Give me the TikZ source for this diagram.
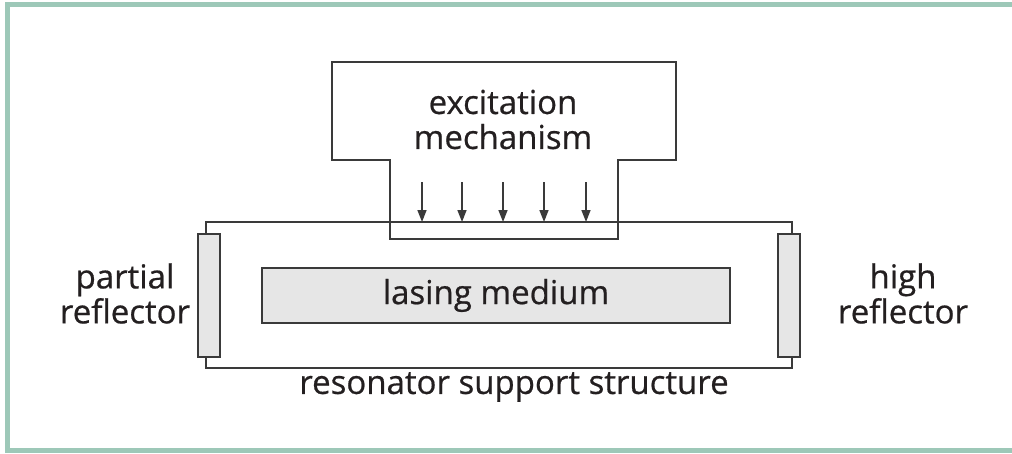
\documentclass[tikz,border=0pt]{standalone}
\usepackage{fontspec}
\setmainfont{Open Sans}
\newfontfamily\lblfont{Open Sans}[FakeBold=0.6]
\usetikzlibrary{arrows.meta}
\definecolor{frameg}{HTML}{9DC8B8}
\definecolor{ln}{HTML}{3A3A3A}
\definecolor{fillg}{HTML}{E6E6E6}
\definecolor{txt}{HTML}{231F20}
\tikzset{
  outl/.style={draw=ln, line width=1.5pt},
  refl/.style={draw=ln, fill=fillg, line width=2pt},
  lbl/.style={text=txt, font=\lblfont\fontsize{33}{35}\selectfont, align=center, inner sep=0pt},
  pump/.style={draw=ln, line width=1.5pt, -{Triangle[length=12pt,width=9pt]}}
}
\begin{document}
\begin{tikzpicture}[x=1pt,y=-1pt]
\useasboundingbox (0,0) rectangle (1012,453);
% outer green frame
\draw[frameg, line width=4.5pt] (7.5,4.5) rectangle (1030,450.5);
% resonator support structure
\draw[outl] (206,234) -- (206,222) -- (792,222) -- (792,234);
\draw[outl] (206,357) -- (206,368) -- (792,368) -- (792,357);
% reflectors
\node[refl, minimum width=22pt, minimum height=123pt, inner sep=0pt] (pr) at (209,295.5) {};
\node[refl, minimum width=22pt, minimum height=123pt, inner sep=0pt] (hr) at (788.5,295.5) {};
% lasing medium
\node[draw=ln, fill=fillg, line width=1.5pt, minimum width=468pt, minimum height=55pt, inner sep=0pt] (lm) at (496,295.5) {};
\node[lbl] at (lm.center) {lasing medium};
% excitation mechanism box
\draw[outl] (332,62) -- (676,62) -- (676,160) -- (618,160) -- (618,239) -- (390,239) -- (390,160) -- (332,160) -- cycle;
\node[lbl] (ex) at (503,119.5) {excitation\\mechanism};
% pump arrows
\foreach \i/\x in {1/422,2/462,3/503,4/544,5/586}{
  \coordinate (a\i) at (\x,182);
  \coordinate (b\i) at (\x,222);
  \draw[pump] (a\i) -- (b\i);
}
% labels
\node[lbl] (pl) at (125,293.5) {partial\\reflector};
\node[lbl] (hl) at (903,293.5) {high\\reflector};
\node[lbl] (rs) at (514,387) {resonator support structure};
\end{tikzpicture}
\end{document}
